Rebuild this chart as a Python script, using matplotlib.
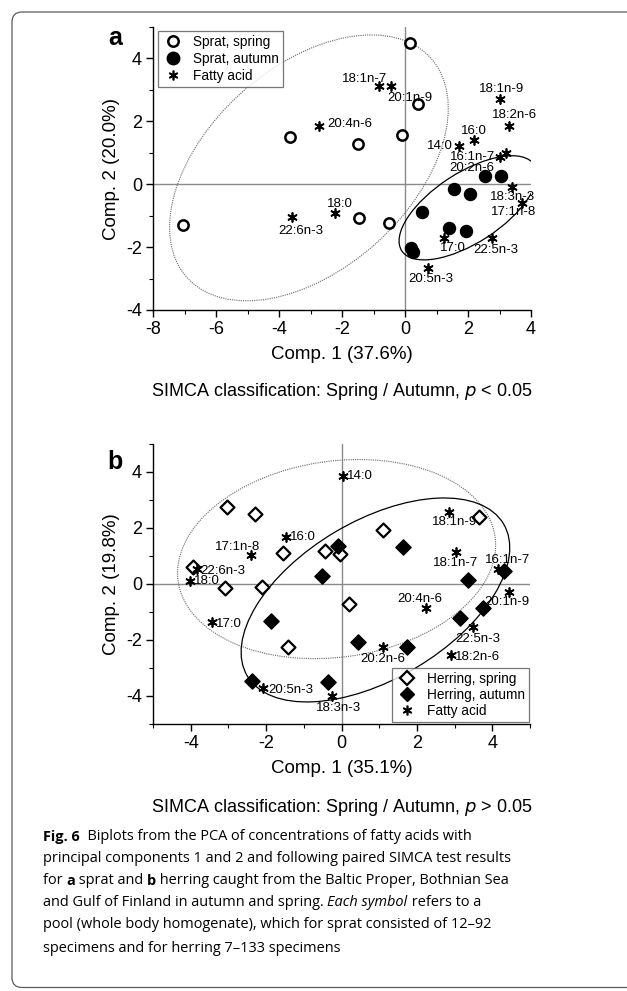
import matplotlib
matplotlib.use("Agg")
import matplotlib.pyplot as plt
from matplotlib.patches import Ellipse, FancyBboxPatch
from matplotlib.lines import Line2D
from matplotlib.transforms import Affine2D
import numpy as np

plt.rcParams['font.family'] = ['Liberation Sans', 'DejaVu Sans']
plt.rcParams['axes.unicode_minus'] = False

# ---------------- Panel a: sprat ----------------
a_spring_x = [0.16, 0.41, -3.65, -1.49, -0.09, -7.05, -1.46, -0.51]
a_spring_y = [4.48, 2.54, 1.49, 1.27, 1.56, -1.30, -1.08, -1.24]
a_autumn_x = [0.54, 0.19, 0.25, 1.55, 2.05, 2.55, 3.05, 1.40, 1.95]
a_autumn_y = [-0.89, -2.03, -2.16, -0.15, -0.30, 0.25, 0.25, -1.40, -1.50]
a_fa_names = ["18:1n-7", "20:1n-9", "20:4n-6", "22:6n-3", "18:0", "20:5n-3",
              "18:1n-9", "16:0", "18:2n-6", "14:0", "16:1n-7", "20:2n-6",
              "18:3n-3", "17:1n-8", "17:0", "22:5n-3"]
a_fa_x = [-0.83, -0.44, -2.73, -3.59, -2.22, 0.73,
          3.00, 2.20, 3.30, 1.70, 3.00, 3.20,
          3.40, 3.70, 1.25, 2.75]
a_fa_y = [3.11, 3.11, 1.84, -1.05, -0.92, -2.67,
          2.70, 1.40, 1.85, 1.20, 0.85, 1.00,
          -0.10, -0.60, -1.72, -1.70]
# label offsets in pixels (dx, dy, ha)
a_fa_off = [(-14, 7, 'center'), (19, -12, 'center'), (8, 2, 'left'), (9, -14, 'center'),
            (5, 9, 'center'), (3, -11, 'center'),
            (2, 10, 'center'), (0, 9, 'center'), (6, 11, 'center'), (-6, 0, 'right'),
            (-27, 0, 'center'), (-34, -15, 'center'),
            (0, -10, 'center'), (-8, -9, 'center'), (9, -10, 'center'), (4, -12, 'center')]
a_ticks_x = [-8, -6, -4, -2, 0, 2, 4]
a_ticks_y = [-4, -2, 0, 2, 4]

# ---------------- Panel b: herring ----------------
b_spring_x = [-3.04, -2.29, -3.95, -3.09, -2.10, -1.55, -0.45, -0.05, 1.09, 0.19, -1.41, 3.65]
b_spring_y = [2.75, 2.50, 0.61, -0.14, -0.10, 1.10, 1.18, 1.07, 1.93, -0.71, -2.25, 2.40]
b_autumn_x = [-0.08, -0.51, 1.63, -1.87, 0.43, 1.73, -0.37, -2.37, 3.35, 3.75, 3.15, 4.30]
b_autumn_y = [1.36, 0.29, 1.32, -1.32, -2.07, -2.25, -3.50, -3.46, 0.15, -0.85, -1.20, 0.45]
b_fa_names = ["14:0", "16:0", "17:1n-8", "22:6n-3", "18:0", "17:0",
              "20:2n-6", "20:4n-6", "20:5n-3", "18:3n-3",
              "18:1n-9", "18:1n-7", "16:1n-7", "20:1n-9", "22:5n-3", "18:2n-6"]
b_fa_x = [0.03, -1.47, -2.40, -3.84, -4.03, -3.44,
          1.09, 2.24, -2.08, -0.24,
          2.85, 3.04, 4.15, 4.45, 3.50, 2.90]
b_fa_y = [3.86, 1.68, 1.04, 0.54, 0.10, -1.36,
          -2.25, -0.86, -3.71, -4.00,
          2.57, 1.14, 0.55, -0.30, -1.55, -2.55]
b_fa_off = [(4, 0, 'left'), (4, 0, 'left'), (-13, 8, 'center'), (4, -2, 'left'), (4, 0, 'left'),
            (4, -2, 'left'), (0, -12, 'center'), (-6, 9, 'center'), (5, -2, 'left'),
            (6, -12, 'center'),
            (6, -10, 'center'), (-1, -11, 'center'), (10, 9, 'center'), (-2, -10, 'center'),
            (4, -12, 'center'), (4, -2, 'left')]
b_ticks_x = [-4, -2, 0, 2, 4]
b_ticks_y = [-4, -2, 0, 2, 4]

# ellipse parameters: centre (data units), full axes in pixels, angle in screen degrees
a_ell_spring = (-3.05, 0.52, 328, 202, 42)
a_ell_autumn = (2.0, -0.75, 158, 70, 33)
b_ell_spring = (-0.13, 0.89, 320, 196, 8)
b_ell_autumn = (0.90, -0.57, 298, 158, 30.7)

W, H = 627, 991
fig = plt.figure(figsize=(W / 100, H / 100), dpi=100)

# outer rounded frame (in inches, uniform scaling)
frame = FancyBboxPatch((0.12, 0.035), 7.0, 9.755,
                       boxstyle="round,pad=0,rounding_size=0.1",
                       transform=fig.dpi_scale_trans, fill=False, ec='#5a5a5a', lw=0.9,
                       clip_on=False)
fig.patches.append(frame)

star_marker = (6, 2, 0)
px2pt = 0.72


def setup_axes(ax, xlim, ylim, xticks, yticks):
    ax.set_xlim(*xlim)
    ax.set_ylim(*ylim)
    ax.spines['top'].set_visible(False)
    ax.spines['right'].set_visible(False)
    ax.spines['left'].set_linewidth(1.0)
    ax.spines['bottom'].set_linewidth(1.0)
    ax.set_xticks(xticks)
    ax.set_yticks(yticks)
    ax.set_xticks(np.arange(xlim[0], xlim[1] + 0.01, 1), minor=True)
    ax.set_yticks(np.arange(ylim[0], ylim[1] + 0.01, 1), minor=True)
    ax.tick_params(which='major', direction='out', length=5, width=1, labelsize=13, pad=3)
    ax.tick_params(which='minor', direction='out', length=3, width=0.8)
    ax.axhline(0, color='#8a8a8a', lw=1.0, zorder=1)
    ax.axvline(0, color='#8a8a8a', lw=1.0, zorder=1)


def add_ell(ax, rect, p, ls, color, lw):
    x0, x1 = ax.get_xlim()
    y0, y1 = ax.get_ylim()
    sx = rect[2] * W / (x1 - x0)
    sy = rect[3] * H / (y1 - y0)
    tr = Affine2D().scale(1 / sx, 1 / sy) + ax.transData
    e = Ellipse((p[0] * sx, p[1] * sy), p[2], p[3], angle=p[4], transform=tr,
                fill=False, ls=ls, ec=color, lw=lw, zorder=2)
    ax.add_patch(e)


def fa(ax, xs, ys, names, offs):
    ax.scatter(xs, ys, marker=star_marker, s=42, c='black', linewidths=1.25, zorder=4)
    for x, y, n, (dx, dy, ha) in zip(xs, ys, names, offs):
        ax.annotate(n, (x, y), xytext=(dx * px2pt, dy * px2pt), textcoords='offset points',
                    ha=ha, va='center', fontsize=9.5, zorder=5, annotation_clip=False)


# ---- Panel a
rect_a = [153 / W, 1 - 310 / H, (531 - 153) / W, (310 - 27) / H]
axa = fig.add_axes(rect_a)
setup_axes(axa, (-8, 4), (-4, 5), a_ticks_x, a_ticks_y)
add_ell(axa, rect_a, a_ell_spring, (0, (1, 1)), '#666666', 0.8)
add_ell(axa, rect_a, a_ell_autumn, '-', 'black', 0.9)
axa.scatter(a_spring_x, a_spring_y, marker='o', s=55, facecolors='white', edgecolors='black',
            linewidths=1.8, zorder=3)
axa.scatter(a_autumn_x, a_autumn_y, marker='o', s=75, c='black', zorder=3)
fa(axa, a_fa_x, a_fa_y, a_fa_names, a_fa_off)
axa.set_xlabel('Comp. 1 (37.6%)', fontsize=13.5, labelpad=6)
axa.set_ylabel('Comp. 2 (20.0%)', fontsize=13.5, labelpad=4)
ha_a = [Line2D([], [], marker='o', ls='', mfc='white', mec='black', mew=1.8, ms=7.5),
        Line2D([], [], marker='o', ls='', mfc='black', mec='black', ms=9),
        Line2D([], [], marker=star_marker, ls='', color='black', mew=1.2, ms=7)]
leg = axa.legend(ha_a, ['Sprat, spring', 'Sprat, autumn', 'Fatty acid'], loc='upper left',
                 bbox_to_anchor=(5 / 378, 1 - 4 / 283), fontsize=9.8, frameon=True, fancybox=False,
                 edgecolor='#555555', handlelength=1.6, handletextpad=0.7, labelspacing=0.22,
                 borderpad=0.3, borderaxespad=0)
leg.get_frame().set_linewidth(0.9)
fig.text(115 / W, 1 - 38 / H, 'a', fontsize=18, fontweight='bold', ha='center', va='center')
fig.text(342 / W, 1 - 392 / H, 'SIMCA classification: Spring / Autumn, $\\it{p}$ < 0.05',
         fontsize=13, ha='center', va='center')

# ---- Panel b
rect_b = [153 / W, 1 - 724 / H, (530 - 153) / W, (724 - 444) / H]
axb = fig.add_axes(rect_b)
setup_axes(axb, (-5, 5), (-5, 5), b_ticks_x, b_ticks_y)
add_ell(axb, rect_b, b_ell_spring, (0, (1, 1)), '#666666', 0.8)
add_ell(axb, rect_b, b_ell_autumn, '-', 'black', 0.9)
axb.scatter(b_spring_x, b_spring_y, marker='D', s=50, facecolors='white', edgecolors='black',
            linewidths=1.6, zorder=3)
axb.scatter(b_autumn_x, b_autumn_y, marker='D', s=60, c='black', zorder=3)
fa(axb, b_fa_x, b_fa_y, b_fa_names, b_fa_off)
axb.set_xlabel('Comp. 1 (35.1%)', fontsize=13.5, labelpad=6)
axb.set_ylabel('Comp. 2 (19.8%)', fontsize=13.5, labelpad=4)
ha_b = [Line2D([], [], marker='D', ls='', mfc='white', mec='black', mew=1.6, ms=7),
        Line2D([], [], marker='D', ls='', mfc='black', mec='black', ms=7.5),
        Line2D([], [], marker=star_marker, ls='', color='black', mew=1.2, ms=7)]
legb = axb.legend(ha_b, ['Herring, spring', 'Herring, autumn', 'Fatty acid'], loc='lower left',
                  bbox_to_anchor=(239 / 377, 2 / 280), fontsize=9.8, frameon=True, fancybox=False,
                  edgecolor='#555555', handlelength=1.6, handletextpad=0.7, labelspacing=0.15,
                  borderpad=0.3, borderaxespad=0)
legb.get_frame().set_linewidth(0.9)
fig.text(115 / W, 1 - 462 / H, 'b', fontsize=18, fontweight='bold', ha='center', va='center')
fig.text(342 / W, 1 - 808 / H, 'SIMCA classification: Spring / Autumn, $\\it{p}$ > 0.05',
         fontsize=13, ha='center', va='center')

# ---- Caption (rich text runs)
cap_font = ['Open Sans', 'DejaVu Sans']
cs = 10.45
cap_lines = [
    [('Fig. 6', 'bold', 'normal'), ('  Biplots from the PCA of concentrations of fatty acids with', 'normal', 'normal')],
    [('principal components 1 and 2 and following paired SIMCA test results', 'normal', 'normal')],
    [('for ', 'normal', 'normal'), ('a', 'bold', 'normal'), (' sprat and ', 'normal', 'normal'),
     ('b', 'bold', 'normal'), (' herring caught from the Baltic Proper, Bothnian Sea', 'normal', 'normal')],
    [('and Gulf of Finland in autumn and spring. ', 'normal', 'normal'), ('Each symbol', 'normal', 'italic'),
     (' refers to a', 'normal', 'normal')],
    [('pool (whole body homogenate), which for sprat consisted of 12\u201392', 'normal', 'normal')],
    [('specimens and for herring 7\u2013133 specimens', 'normal', 'normal')],
]
cap_y = [837, 859, 881, 903, 925, 948]
renderer = fig.canvas.get_renderer()
for runs, yy in zip(cap_lines, cap_y):
    xpx = 43.0
    for txt, wt, st in runs:
        t = fig.text(xpx / W, 1 - yy / H, txt, fontsize=cs, family=cap_font, fontweight=wt,
                     fontstyle=st, va='center', ha='left')
        xpx += t.get_window_extent(renderer).width

fig.savefig('out.png', dpi=100)
